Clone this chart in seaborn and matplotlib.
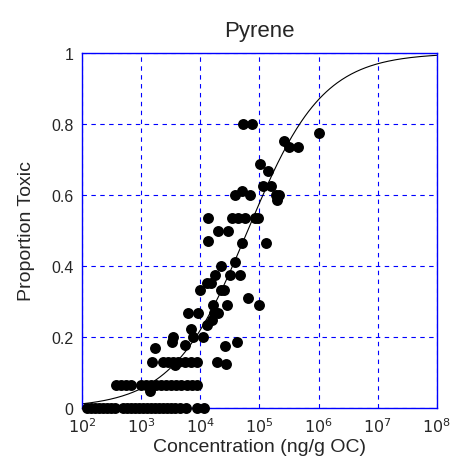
import numpy as np
import pandas as pd
import matplotlib
matplotlib.use("Agg")
import matplotlib.pyplot as plt
import seaborn as sns

# log10 concentration (ng/g OC) and proportion toxic
log_conc = [
    # proportion 0
    2.08, 2.15, 2.22, 2.29, 2.35, 2.42, 2.49, 2.56, 2.69, 2.76, 2.83, 2.90, 2.96,
    3.03, 3.10, 3.17, 3.23, 3.30, 3.37, 3.44, 3.50, 3.57, 3.66, 3.76, 3.94, 4.06,
    # ~0.067
    2.57, 2.66, 2.74, 2.83, 3.00, 3.08, 3.17, 3.25, 3.33, 3.42, 3.50, 3.59, 3.67,
    3.77, 3.86, 3.94, 3.15,
    # ~0.13
    3.18, 3.37, 3.45, 3.54, 3.62, 3.74, 3.84, 3.94, 4.28, 4.43, 3.57,
    # 0.17 - 0.25
    3.23, 3.74, 3.52, 4.42, 4.62, 3.54, 3.88, 4.04, 4.11, 3.84, 4.20,
    # 0.27 - 0.35
    3.79, 3.96, 4.23, 4.30, 4.21, 4.45, 4.99, 4.80, 3.99, 4.35, 4.40, 4.11, 4.18,
    # 0.37 - 0.5
    4.25, 4.50, 4.67, 4.36, 4.58, 4.13, 4.70, 5.12, 4.30, 4.47,
    # 0.53 - 0.8
    4.13, 4.53, 4.64, 4.75, 4.92, 4.97, 4.58, 4.70, 4.84, 5.28, 5.33, 5.30,
    5.06, 5.19, 5.01, 5.14, 5.41, 5.50, 5.65, 4.72, 4.87, 6.00,
]
prop_toxic = [
    0, 0, 0, 0, 0, 0, 0, 0, 0, 0, 0, 0, 0,
    0, 0, 0, 0, 0, 0, 0, 0, 0, 0, 0, 0, 0,
    0.065, 0.065, 0.065, 0.065, 0.065, 0.065, 0.065, 0.065, 0.065, 0.065, 0.065, 0.065, 0.065,
    0.065, 0.065, 0.065, 0.048,
    0.13, 0.13, 0.13, 0.13, 0.13, 0.13, 0.13, 0.13, 0.13, 0.125, 0.12,
    0.17, 0.177, 0.186, 0.175, 0.186, 0.2, 0.2, 0.2, 0.233, 0.222, 0.248,
    0.267, 0.267, 0.267, 0.267, 0.29, 0.29, 0.29, 0.31, 0.333, 0.333, 0.333, 0.352, 0.352,
    0.375, 0.375, 0.375, 0.4, 0.41, 0.47, 0.465, 0.465, 0.5, 0.5,
    0.535, 0.535, 0.535, 0.535, 0.535, 0.535, 0.6, 0.61, 0.6, 0.6, 0.6, 0.585,
    0.625, 0.625, 0.687, 0.667, 0.752, 0.735, 0.735, 0.8, 0.8, 0.775,
]

# logistic model: p = 1 / (1 + exp(-(b0 + b1*log10(conc))))
b0 = -7.59
b1 = 1.58

df = pd.DataFrame({"conc": 10 ** np.array(log_conc), "prop": prop_toxic})

curve_log = np.linspace(2, 8, 300)
curve = pd.DataFrame({"conc": 10 ** curve_log,
                      "prop": 1 / (1 + np.exp(-(b0 + b1 * curve_log)))})

sns.set_style("white")
plt.rcParams["font.family"] = ["Liberation Sans", "DejaVu Sans"]

fig = plt.figure(figsize=(4.55, 4.64), dpi=100)
ax = fig.add_axes([0.180, 0.1185, 0.780, 0.765])

sns.lineplot(data=curve, x="conc", y="prop", color="black", linewidth=0.8, ax=ax)
sns.scatterplot(data=df, x="conc", y="prop", color="black", s=62,
                edgecolor="black", linewidth=0, ax=ax, zorder=3, clip_on=False)

ax.set_xscale("log")
ax.set_xlim(1e2, 1e8)
ax.set_ylim(0, 1)
ax.set_xticks([10 ** k for k in range(2, 9)])
ax.set_xticklabels([r"$10^{%d}$" % k for k in range(2, 9)])
ax.minorticks_off()
ax.set_yticks([0, 0.2, 0.4, 0.6, 0.8, 1])
ax.set_yticklabels(["0", "0.2", "0.4", "0.6", "0.8", "1"])
ax.tick_params(labelsize=11.5, length=0, pad=6)

ax.grid(True, color="blue", linestyle=(0, (4, 4)), linewidth=0.8)
for s in ax.spines.values():
    s.set_color("blue")
    s.set_linewidth(1)

ax.set_title("Pyrene", fontsize=16, pad=12)
ax.set_xlabel("Concentration (ng/g OC)", fontsize=14, labelpad=2)
ax.set_ylabel("Proportion Toxic", fontsize=14, labelpad=12)

fig.savefig("out.png", dpi=100)
